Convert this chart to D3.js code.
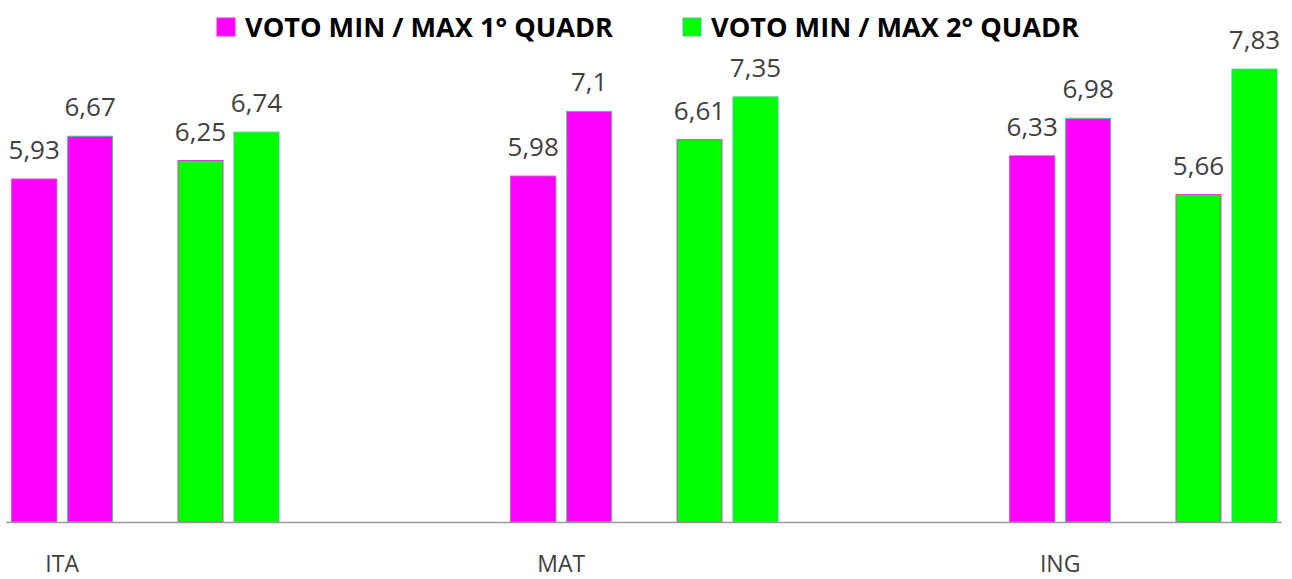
<!DOCTYPE html>
<html>
<head>
<meta charset="utf-8">
<script src="https://cdn.jsdelivr.net/npm/d3@7"></script>
<style>
	body { margin: 0; background: #fff; }
	text { font-family: "Open Sans", sans-serif; }
</style>
</head>
<body>
<div id="grafico"></div>
<script>
const width = 1292
const height = 579

const materie = ["ITA", "MAT", "ING"]
const quadrimestri = ["VOTO MIN / MAX 1° QUADR", "VOTO MIN / MAX 2° QUADR"]
const min1 = [5.93, 5.98, 6.33]
const max1 = [6.67, 7.1, 6.98]
const min2 = [6.25, 6.61, 5.66]
const max2 = [6.74, 7.35, 7.83]

const colori = ["#ff00ff", "#00ff00"]

const svg = d3.select("#grafico")
	.append("svg")
	.attr("width", width)
	.attr("height", height)

// una riga per barra
const barre = []
materie.forEach((m, i) => {
	barre.push({materia: m, q: 0, tipo: "min", valore: min1[i]})
	barre.push({materia: m, q: 0, tipo: "max", valore: max1[i]})
	barre.push({materia: m, q: 1, tipo: "min", valore: min2[i]})
	barre.push({materia: m, q: 1, tipo: "max", valore: max2[i]})
})

const x0 = d3.scaleBand()
	.domain(materie)
	.range([-21, 1476])

// terzo posto vuoto fra una materia e l'altra
const x1 = d3.scaleBand()
	.domain([0, 1, 2])
	.range([0, x0.bandwidth()])

const x2 = d3.scaleBand()
	.domain(["min", "max"])
	.range([0, x1.bandwidth()])
	.paddingInner(0.196)
	.paddingOuter(0.584)

const y = d3.scaleLinear()
	.domain([0, 8])
	.range([522, 59.3])

const xPos = d => x0(d.materia) + x1(d.q) + x2(d.tipo)

svg.selectAll("rect.barra")
	.data(barre)
	.join("rect")
		.attr("class", "barra")
		.attr("x", xPos)
		.attr("y", d => y(d.valore))
		.attr("width", x2.bandwidth())
		.attr("height", d => y(0) - y(d.valore))
		.attr("fill", d => colori[d.q])
		.attr("stroke", d => d.tipo == "min" ? "#cc44cc" : "#44cc88")
		.attr("stroke-width", 1)

svg.selectAll("text.valore")
	.data(barre)
	.join("text")
		.attr("class", "valore")
		.attr("x", d => xPos(d) + x2.bandwidth() / 2)
		.attr("y", d => y(d.valore) - 20)
		.attr("text-anchor", "middle")
		.attr("font-size", "26px")
		.attr("fill", "#404040")
		.text(d => String(d.valore).replace(".", ","))

// asse
svg.append("line")
	.attr("x1", 6)
	.attr("x2", 1282)
	.attr("y1", y(0) + 0.5)
	.attr("y2", y(0) + 0.5)
	.attr("stroke", "#999")
	.attr("stroke-width", 1.5)

svg.selectAll("text.materia")
	.data(materie)
	.join("text")
		.attr("class", "materia")
		.attr("x", d => x0(d) + x1(0) + x1.bandwidth() / 2)
		.attr("y", 572)
		.attr("text-anchor", "middle")
		.attr("font-size", "23px")
		.attr("fill", "#404040")
		.text(d => d)

// legenda
const legX = [217, 683]
const leg = svg.selectAll("g.legenda")
	.data(quadrimestri)
	.join("g")
		.attr("class", "legenda")
		.attr("transform", (d, i) => `translate(${legX[i]}, 18)`)

leg.append("rect")
	.attr("width", 18)
	.attr("height", 18)
	.attr("fill", (d, i) => colori[i])
	.attr("stroke", (d, i) => i == 0 ? "#ee22ee" : "#44cc88")

leg.append("text")
	.attr("x", 28)
	.attr("y", 18.5)
	.attr("font-size", "26px")
	.attr("font-weight", "bold")
	.attr("fill", "#000")
	.attr("textLength", 368)
	.attr("lengthAdjust", "spacingAndGlyphs")
	.text(d => d)
</script>
</body>
</html>
